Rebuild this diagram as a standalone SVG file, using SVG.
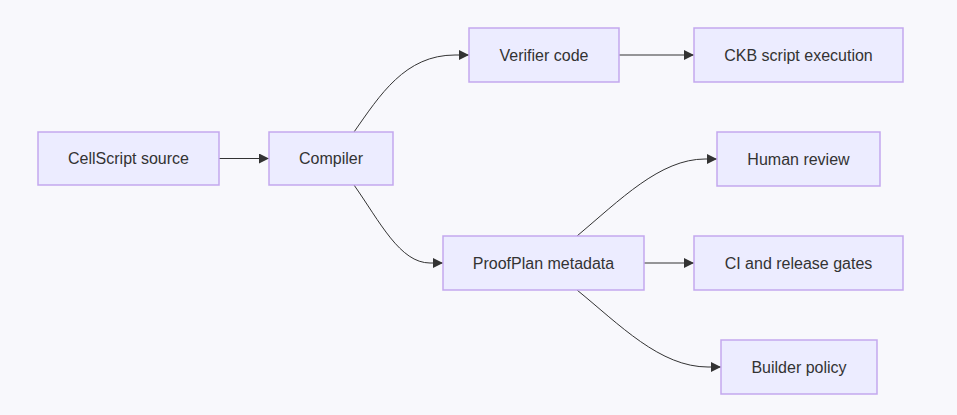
<svg xmlns="http://www.w3.org/2000/svg" width="957" height="415" viewBox="0 0 957 415">
<style>
.node rect{fill:#ECECFF;stroke:#C3A8EE;stroke-width:1.5}
.node text{font-family:"Liberation Sans",Arial,sans-serif;font-size:16px;fill:#333;text-anchor:middle;dominant-baseline:central}
.edge{fill:none;stroke:#333;stroke-width:1}
</style>
<defs>
<marker id="arr" viewBox="0 0 10 10" refX="10" refY="5" markerWidth="10" markerHeight="10" markerUnits="userSpaceOnUse" orient="auto">
<path d="M0,0 L10,5 L0,10 z" fill="#333"/>
</marker>
</defs>
<rect width="957" height="415" fill="#F8F8FC"/>
<g id="connectors">
<path class="edge" d="M219,158.5 L269,158.5" marker-end="url(#arr)"/>
<path class="edge" d="M354,132 C380,95 405,55 455,55 L469,55" marker-end="url(#arr)"/>
<path class="edge" d="M354,185 C380,222 400,263 430,263 L443,263" marker-end="url(#arr)"/>
<path class="edge" d="M619,55 L694,55" marker-end="url(#arr)"/>
<path class="edge" d="M577,236 C620,200 660,159 705,159 L717,159" marker-end="url(#arr)"/>
<path class="edge" d="M644,263 L694,263" marker-end="url(#arr)"/>
<path class="edge" d="M577,290 C620,325 660,367 708,367 L721,367" marker-end="url(#arr)"/>
</g>
<g id="cellscript" class="node"><rect x="38" y="132" width="181" height="53"/><text x="128.5" y="158.5">CellScript source</text></g>
<g id="compiler" class="node"><rect x="269" y="132" width="124" height="53"/><text x="331" y="158.5">Compiler</text></g>
<g id="verifier" class="node"><rect x="469" y="28" width="150" height="54"/><text x="544" y="55">Verifier code</text></g>
<g id="ckb" class="node"><rect x="694" y="28" width="209" height="54"/><text x="798.5" y="55">CKB script execution</text></g>
<g id="proofplan" class="node"><rect x="443" y="236" width="201" height="54"/><text x="543.5" y="263">ProofPlan metadata</text></g>
<g id="human" class="node"><rect x="717" y="132" width="163" height="54"/><text x="798.5" y="159">Human review</text></g>
<g id="ci" class="node"><rect x="694" y="236" width="209" height="54"/><text x="798.5" y="263">CI and release gates</text></g>
<g id="builder" class="node"><rect x="721" y="340" width="156" height="54"/><text x="799" y="367">Builder policy</text></g>
</svg>
